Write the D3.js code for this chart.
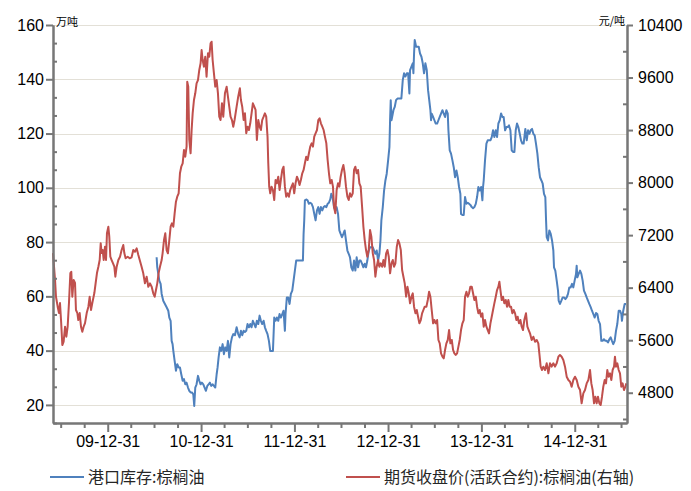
<!DOCTYPE html>
<html>
<head>
<meta charset="utf-8">
<script src="https://cdn.jsdelivr.net/npm/d3@7"></script>
<style>
  body { margin: 0; background: #fff; }
  svg { display: block; font-family: "Liberation Sans", Arial, sans-serif; }
</style>
</head>
<body>
<script>
// series names / units
const stockName = "港口库存:棕榈油";
const priceName = "期货收盘价(活跃合约):棕榈油(右轴)";
const leftUnit = "万吨";
const rightUnit = "元/吨";

// tick values
const leftTicks = [20, 40, 60, 80, 100, 120, 140, 160];
const leftMinor = [13.333, 26.667, 33.333, 46.667, 53.333, 66.667, 73.333, 86.667, 93.333,
  106.667, 113.333, 126.667, 133.333, 146.667, 153.333];
const rightTicks = [4800, 5600, 6400, 7200, 8000, 8800, 9600, 10400];
const rightMinor = [4400, 5200, 6000, 6800, 7600, 8400, 9200, 10000];
const quarterEnds = ["2009-06-30", "2009-09-30", "2009-12-31",
  "2010-03-31", "2010-06-30", "2010-09-30", "2010-12-31",
  "2011-03-31", "2011-06-30", "2011-09-30", "2011-12-31",
  "2012-03-31", "2012-06-30", "2012-09-30", "2012-12-31",
  "2013-03-31", "2013-06-30", "2013-09-30", "2013-12-31",
  "2014-03-31", "2014-06-30", "2014-09-30", "2014-12-31",
  "2015-03-31", "2015-06-30"];

// port stock, 万吨  [decimal year, value]
const stockSeries = [
  [2010.521,74.4],[2010.528,70.7],[2010.539,68.3],[2010.550,65.8],[2010.564,64.6],[2010.575,60.9],[2010.592,58.4],[2010.610,57.2],
  [2010.628,56.0],[2010.646,54.7],[2010.657,52.2],[2010.671,51.0],[2010.682,43.6],[2010.692,42.4],[2010.700,39.9],[2010.714,36.2],
  [2010.728,32.6],[2010.742,35.0],[2010.757,33.8],[2010.771,33.8],[2010.785,31.3],[2010.800,28.9],[2010.814,29.5],[2010.828,27.6],
  [2010.842,28.2],[2010.857,26.4],[2010.871,25.2],[2010.885,24.6],[2010.899,24.6],[2010.914,23.9],[2010.924,19.6],[2010.935,26.4],
  [2010.949,27.6],[2010.964,30.7],[2010.978,28.9],[2010.992,27.6],[2011.006,28.2],[2011.021,27.6],[2011.035,26.4],[2011.049,25.2],
  [2011.064,27.0],[2011.078,27.6],[2011.092,28.2],[2011.106,27.0],[2011.121,27.6],[2011.135,27.0],[2011.149,26.4],[2011.164,31.3],
  [2011.174,33.8],[2011.185,37.5],[2011.199,41.2],[2011.213,39.9],[2011.228,42.4],[2011.242,38.7],[2011.256,41.2],[2011.271,39.9],
  [2011.285,43.6],[2011.299,37.5],[2011.313,42.4],[2011.328,44.9],[2011.342,46.1],[2011.360,45.7],[2011.378,48.6],
  [2011.395,46.1],[2011.410,44.9],[2011.424,47.3],[2011.438,45.7],[2011.453,47.3],[2011.467,46.9],[2011.481,47.3],[2011.495,49.8],
  [2011.510,48.6],[2011.524,49.8],[2011.538,48.6],[2011.552,51.0],[2011.567,49.8],[2011.581,48.6],[2011.595,51.0],[2011.610,49.8],
  [2011.624,52.9],[2011.638,51.0],[2011.652,49.8],[2011.667,51.0],[2011.681,48.6],[2011.695,47.3],[2011.709,46.1],[2011.724,43.6],
  [2011.738,39.9],[2011.752,39.9],[2011.767,39.9],[2011.781,52.2],[2011.795,51.0],[2011.809,52.2],[2011.824,51.0],[2011.838,53.5],
  [2011.852,52.2],[2011.867,53.5],[2011.881,54.7],[2011.895,47.3],[2011.902,53.5],[2011.916,59.6],[2011.931,59.6],[2011.945,57.2],
  [2011.959,60.9],[2011.974,62.1],[2011.988,65.8],[2012.002,69.5],[2012.016,73.2],[2012.088,73.2],[2012.095,83.0],[2012.102,88.0],
  [2012.109,95.4],[2012.123,95.7],[2012.138,95.4],[2012.152,94.1],[2012.166,94.5],[2012.181,94.1],[2012.195,92.9],[2012.209,90.4],
  [2012.223,88.0],[2012.238,91.7],[2012.252,92.9],[2012.266,90.4],[2012.280,92.9],[2012.295,91.7],[2012.309,92.9],[2012.323,93.3],
  [2012.338,92.9],[2012.352,94.1],[2012.366,94.5],[2012.380,95.7],
  [2012.391,97.8],[2012.405,96.6],[2012.420,92.9],[2012.434,91.7],[2012.448,92.9],[2012.463,90.4],[2012.477,84.3],[2012.491,83.0],
  [2012.505,81.8],[2012.520,83.0],[2012.534,84.3],[2012.548,80.6],[2012.563,76.9],[2012.577,75.7],[2012.591,74.4],[2012.605,70.7],
  [2012.620,69.5],[2012.634,73.2],[2012.648,69.5],[2012.662,74.4],[2012.677,70.7],[2012.691,73.2],[2012.705,73.2],[2012.720,72.0],
  [2012.734,70.7],[2012.748,72.0],[2012.762,70.7],[2012.776,73.2],[2012.791,76.9],[2012.805,78.1],[2012.834,78.1],[2012.848,76.9],
  [2012.862,75.7],[2012.876,76.9],[2012.891,73.2],[2012.905,75.7],[2012.916,80.6],[2012.926,88.0],[2012.941,92.9],[2012.955,99.0],
  [2012.969,102.7],[2012.983,105.2],[2012.998,110.1],[2013.012,115.0],[2013.019,124.9],[2013.026,132.3],[2013.034,124.9],[2013.041,126.1],
  [2013.055,128.6],[2013.069,129.8],[2013.083,132.3],[2013.098,132.9],[2013.140,132.9],[2013.155,139.7],[2013.169,142.2],[2013.183,141.0],
  [2013.198,142.2],[2013.212,142.2],[2013.226,134.8],[2013.233,143.4],[2013.248,144.7],[2013.262,145.9],[2013.269,142.2],[2013.276,149.5],
  [2013.283,154.5],[2013.298,152.0],[2013.326,152.0],[2013.340,149.5],[2013.355,148.3],[2013.369,145.9],[2013.383,142.2],[2013.397,145.9],
  [2013.412,143.4],[2013.426,136.0],
  [2013.451,128.6],[2013.458,124.9],[2013.465,127.3],[2013.480,126.1],[2013.494,124.9],[2013.508,123.7],[2013.523,123.7],[2013.537,124.9],
  [2013.551,126.1],[2013.565,127.3],[2013.580,128.6],[2013.594,127.3],[2013.608,126.1],[2013.622,128.6],[2013.637,127.3],[2013.644,121.2],
  [2013.658,113.8],[2013.672,112.6],[2013.687,110.1],[2013.701,107.6],[2013.715,103.9],[2013.730,106.4],[2013.744,103.9],[2013.758,100.3],
  [2013.772,97.8],[2013.779,90.4],[2013.794,90.0],[2013.808,90.0],[2013.822,96.6],[2013.837,94.1],[2013.851,94.5],[2013.865,94.1],
  [2013.879,93.7],[2013.894,92.9],[2013.908,92.5],[2013.922,92.9],[2013.937,94.1],[2013.951,96.6],[2013.965,100.3],[2013.979,99.0],
  [2013.994,100.3],[2014.008,95.4],[2014.015,100.3],[2014.022,102.7],[2014.036,110.1],[2014.051,116.3],[2014.065,117.5],[2014.094,117.5],
  [2014.108,118.7],[2014.122,121.2],[2014.136,118.7],[2014.151,121.2],[2014.165,118.7],[2014.179,123.7],[2014.194,124.9],[2014.208,127.4],
  [2014.222,126.1],[2014.236,126.1],[2014.251,121.2],[2014.265,122.4],[2014.279,122.4],[2014.293,123.0],[2014.308,121.2],[2014.322,113.8],
  [2014.336,113.2],[2014.351,113.2],[2014.365,121.2],[2014.379,123.7],[2014.393,122.4],[2014.408,119.9],[2014.422,117.5],[2014.436,116.3],
  [2014.450,116.3],
  [2014.468,121.7],[2014.483,117.5],[2014.497,121.2],[2014.511,119.9],[2014.525,121.2],[2014.540,121.7],[2014.554,119.9],[2014.568,119.3],
  [2014.582,116.3],[2014.597,112.6],[2014.611,107.6],[2014.625,103.9],[2014.640,102.7],[2014.654,101.5],[2014.668,97.8],[2014.682,96.6],
  [2014.690,88.0],[2014.697,81.8],[2014.711,80.6],[2014.725,84.3],[2014.740,83.0],[2014.754,80.6],[2014.768,76.9],[2014.775,70.7],
  [2014.789,69.5],[2014.804,65.8],[2014.818,62.1],[2014.825,58.4],[2014.839,57.2],[2014.854,58.4],[2014.868,59.6],[2014.882,59.6],
  [2014.897,59.0],[2014.911,59.6],[2014.925,60.9],[2014.939,63.3],[2014.954,63.3],[2014.968,64.6],[2014.982,63.3],[2014.996,65.8],
  [2015.011,68.3],[2015.018,71.3],[2015.025,67.0],[2015.039,68.3],[2015.054,69.5],[2015.068,68.3],[2015.082,65.8],[2015.096,62.1],
  [2015.111,60.9],[2015.125,59.6],[2015.139,58.4],[2015.153,57.2],[2015.168,56.0],[2015.182,54.7],[2015.196,53.5],[2015.211,52.2],
  [2015.225,53.9],[2015.239,53.5],[2015.253,51.0],[2015.268,49.8],[2015.282,43.6],[2015.296,43.6],[2015.310,44.2],[2015.325,43.6],
  [2015.339,43.6],[2015.353,43.0],[2015.368,44.2],[2015.382,44.9],[2015.396,43.6],[2015.410,42.4],[2015.425,43.6],[2015.439,47.3],
  [2015.453,49.8],[2015.468,54.7],[2015.482,54.7],[2015.496,53.5],[2015.503,51.0],[2015.517,54.7],[2015.532,57.2],[2015.546,57.2]
];

// futures close, 元/吨  [decimal year, value]
const priceSeries = [
  [2009.411,6927],[2009.415,6850],[2009.433,6517],[2009.443,6262],[2009.461,6110],[2009.475,6013],[2009.486,6166],[2009.497,5907],
  [2009.511,5526],[2009.525,5577],[2009.540,5805],[2009.554,5653],[2009.568,5805],[2009.582,6166],[2009.597,6623],[2009.607,6643],
  [2009.618,6262],[2009.632,6517],[2009.647,6471],[2009.657,6060],[2009.672,6013],[2009.682,5907],[2009.697,6013],[2009.711,5805],
  [2009.725,5729],[2009.739,5805],[2009.754,5861],[2009.772,6013],[2009.790,6110],[2009.804,6262],[2009.818,6060],[2009.832,6166],
  [2009.854,6318],[2009.868,6471],[2009.882,6623],[2009.897,6719],[2009.911,6821],[2009.922,7075],[2009.932,6927],[2009.943,6973],
  [2009.954,6821],[2009.968,7024],[2009.979,6821],[2009.989,7228],[2010.004,7328],[2010.014,7176],[2010.025,6871],[2010.039,6821],
  [2010.054,6770],[2010.068,6719],[2010.079,6567],[2010.093,6719],[2010.111,6821],[2010.129,6871],[2010.146,6973],[2010.164,7049],
  [2010.175,6927],[2010.189,6847],[2010.211,6871],[2010.232,6847],[2010.253,6862],[2010.271,6973],[2010.289,6947],[2010.307,6999],
  [2010.325,6897],
  [2010.360,6719],[2010.378,6618],[2010.396,6466],[2010.414,6567],[2010.432,6414],[2010.450,6466],[2010.468,6414],[2010.485,6314],
  [2010.500,6262],[2010.514,6364],[2010.528,6466],[2010.542,6618],[2010.557,6719],[2010.575,6821],[2010.585,6923],[2010.600,7125],
  [2010.614,7228],[2010.628,6973],[2010.642,6923],[2010.657,7125],[2010.671,7328],[2010.685,7380],[2010.700,7328],[2010.714,7532],
  [2010.728,7710],[2010.742,7785],[2010.757,7837],[2010.771,8142],[2010.785,8242],[2010.800,8294],[2010.814,8496],[2010.828,8394],
  [2010.842,8547],[2010.849,9537],[2010.860,9461],[2010.871,8649],[2010.885,8446],[2010.896,8801],[2010.907,9055],[2010.921,9258],
  [2010.935,9360],[2010.949,9512],[2010.964,9562],[2010.978,9715],[2010.992,9817],[2011.003,10019],[2011.014,9867],[2011.028,9765],
  [2011.042,9917],[2011.056,9613],[2011.071,9969],[2011.085,9917],[2011.099,10121],[2011.110,10146],[2011.121,9867],[2011.135,9664],
  [2011.149,9461],[2011.164,9562],[2011.178,9360],[2011.192,9004],[2011.206,8953],[2011.221,9207],[2011.235,9004],[2011.253,9360],
  [2011.271,9461],[2011.285,9308],[2011.299,9156],[2011.313,9004],[2011.328,8953],[2011.342,8851],[2011.356,8953],
  [2011.378,9156],[2011.395,9308],[2011.413,9436],[2011.424,9258],[2011.438,9156],[2011.453,8953],[2011.467,9055],[2011.481,8751],
  [2011.495,8851],[2011.510,8801],[2011.524,8903],[2011.538,9055],[2011.552,9207],[2011.567,9156],[2011.581,9106],[2011.595,8649],
  [2011.610,8953],[2011.624,8851],[2011.638,8801],[2011.652,8953],[2011.667,9004],[2011.681,9055],[2011.695,9004],[2011.709,8700],
  [2011.717,8294],[2011.727,7938],[2011.738,7837],[2011.752,7938],[2011.767,7887],[2011.781,7735],[2011.795,8040],[2011.809,7989],
  [2011.824,8090],[2011.838,7887],[2011.852,8040],[2011.867,8192],[2011.881,8242],[2011.895,7938],[2011.909,7785],[2011.924,7837],
  [2011.938,7785],[2011.952,7887],[2011.966,7938],[2011.981,7989],[2011.995,7837],[2012.009,7989],[2012.024,8090],[2012.038,8040],
  [2012.052,7963],[2012.066,8040],[2012.081,8142],[2012.095,8192],[2012.109,8294],[2012.123,8394],[2012.138,8344],[2012.152,8446],
  [2012.166,8547],[2012.181,8598],[2012.195,8547],[2012.209,8700],[2012.223,8751],[2012.238,8801],[2012.252,8953],[2012.266,8979],
  [2012.280,8903],[2012.295,8851],[2012.309,8801],[2012.323,8700],[2012.338,8598],[2012.352,8344],[2012.366,8142],[2012.380,7989],
  [2012.395,8040],[2012.409,7938],
  [2012.420,7633],[2012.434,7532],[2012.448,7887],[2012.463,7989],[2012.477,7938],[2012.491,8090],[2012.505,8192],[2012.520,8268],
  [2012.534,8142],[2012.548,7938],[2012.563,7785],[2012.577,7735],[2012.591,7837],[2012.605,7785],[2012.620,7837],[2012.634,8192],
  [2012.648,8242],[2012.662,8142],[2012.677,8192],[2012.691,7989],[2012.705,7938],[2012.720,7633],[2012.734,7328],[2012.748,7125],
  [2012.762,6973],[2012.776,6871],[2012.791,6973],[2012.805,7278],[2012.819,7176],[2012.834,6923],[2012.848,6821],[2012.862,6567],
  [2012.876,6719],[2012.891,6821],[2012.905,6719],[2012.919,6770],[2012.934,6719],[2012.948,6821],[2012.962,6719],[2012.977,6923],
  [2012.991,6973],[2013.005,6871],[2013.019,6618],[2013.034,6770],[2013.048,6821],[2013.062,6719],[2013.076,6770],[2013.091,7024],
  [2013.105,7125],[2013.119,7075],[2013.134,6973],[2013.148,6669],[2013.162,6567],[2013.176,6466],[2013.191,6262],[2013.205,6414],
  [2013.219,6314],[2013.233,6161],[2013.248,6262],[2013.262,6314],[2013.276,6110],[2013.291,6009],[2013.305,6060],[2013.319,5958],
  [2013.333,5857],[2013.348,5907],[2013.362,6009],[2013.376,6060],[2013.390,6110],
  [2013.408,6110],[2013.423,6212],[2013.437,6338],[2013.451,6262],[2013.465,6060],[2013.480,5857],[2013.494,5907],[2013.508,5857],
  [2013.523,5907],[2013.537,5603],[2013.551,5552],[2013.565,5400],[2013.580,5349],[2013.594,5324],[2013.608,5451],[2013.622,5552],
  [2013.637,5603],[2013.651,5755],[2013.665,5552],[2013.680,5603],[2013.694,5451],[2013.708,5400],[2013.722,5375],[2013.737,5400],
  [2013.751,5502],[2013.765,5603],[2013.779,5755],[2013.794,5857],[2013.808,5907],[2013.822,6262],[2013.837,6338],[2013.851,6262],
  [2013.865,6314],[2013.879,6414],[2013.894,6414],[2013.908,6314],[2013.922,6212],[2013.937,6262],[2013.951,6110],[2013.965,6009],
  [2013.979,6060],[2013.994,5958],[2014.008,6009],[2014.022,5805],[2014.036,5907],[2014.051,5805],[2014.065,5755],[2014.079,5704],
  [2014.094,5857],[2014.108,5958],[2014.122,6060],[2014.136,6161],[2014.151,6262],[2014.165,6364],[2014.179,6414],[2014.190,6491],
  [2014.201,6364],[2014.215,6212],[2014.229,6262],[2014.243,6161],[2014.258,6212],[2014.272,6110],[2014.286,6212],[2014.300,6110],
  [2014.315,6110],[2014.329,6009],[2014.343,6060],[2014.358,6009],[2014.372,5907],[2014.386,5958],[2014.400,5857],[2014.415,5907],
  [2014.429,5805],[2014.443,5755],[2014.457,5907],
  [2014.475,6009],[2014.490,5805],[2014.504,5755],[2014.518,5704],[2014.536,5603],[2014.554,5653],[2014.572,5577],[2014.590,5603],
  [2014.607,5552],[2014.618,5400],[2014.632,5197],[2014.647,5146],[2014.661,5197],[2014.679,5146],[2014.697,5248],[2014.715,5095],
  [2014.732,5248],[2014.750,5197],[2014.768,5248],[2014.786,5197],[2014.804,5248],[2014.822,5349],[2014.839,5375],[2014.857,5349],
  [2014.875,5299],[2014.893,5197],[2014.911,5044],[2014.929,4993],[2014.947,4968],[2014.964,4891],[2014.982,4993],[2015.000,5044],
  [2015.018,4993],[2015.036,4891],[2015.054,4841],[2015.071,4638],[2015.089,4790],[2015.107,4841],[2015.125,4942],[2015.143,4993],
  [2015.161,5146],[2015.175,4942],[2015.189,4841],[2015.204,4638],[2015.218,4739],[2015.232,4638],[2015.246,4739],[2015.261,4638],
  [2015.275,4613],[2015.289,4739],[2015.303,4891],[2015.318,4993],[2015.332,4942],[2015.346,5146],[2015.360,5044],[2015.375,5095],
  [2015.389,4993],[2015.403,5146],[2015.418,5197],[2015.428,5349],[2015.439,5197],[2015.453,5248],[2015.468,5146],[2015.482,5095],
  [2015.496,4891],[2015.510,4942],[2015.525,4841],[2015.539,4891],[2015.550,4942]
];

// layout
const width = 691, height = 491;
const plot = {left: 53, right: 627, top: 25, bottom: 423};
const blue = "#4f81bd", red = "#c0504d", axisColor = "#777777", gridColor = "#e3e0d7";

// decimal year -> Date (UTC)
function yearDate(y) {
  const yr = Math.floor(y);
  const a = Date.UTC(yr, 0, 1), b = Date.UTC(yr + 1, 0, 1);
  return new Date(a + (y - yr) * (b - a));
}
const parseDay = d3.utcParse("%Y-%m-%d");

const svg = d3.select("body").append("svg")
  .attr("width", width)
  .attr("height", height);

// scales
const x = d3.scaleUtc()
  .domain([yearDate(2009.411), yearDate(2015.557)])
  .range([plot.left, plot.right]);
const yLeft = d3.scaleLinear()
  .domain([13.333, 160])
  .range([plot.bottom, plot.top]);
const yRight = d3.scaleLinear()
  .domain([4339, 10400])
  .range([plot.bottom, plot.top]);

// grid lines
svg.append("g")
  .selectAll("line")
  .data(leftTicks)
  .enter()
  .append("line")
  .attr("x1", plot.left)
  .attr("x2", plot.right)
  .attr("y1", d => Math.round(yLeft(d)) + 0.5)
  .attr("y2", d => Math.round(yLeft(d)) + 0.5)
  .attr("stroke", gridColor)
  .attr("stroke-width", 1);

// lines
const stockLine = d3.line()
  .x(d => x(yearDate(d[0])))
  .y(d => yLeft(d[1]));
const priceLine = d3.line()
  .x(d => x(yearDate(d[0])))
  .y(d => yRight(d[1]));

svg.append("path")
  .datum(stockSeries)
  .attr("d", stockLine)
  .attr("fill", "none")
  .attr("stroke", blue)
  .attr("stroke-width", 2)
  .attr("stroke-linejoin", "round");

svg.append("path")
  .datum(priceSeries)
  .attr("d", priceLine)
  .attr("fill", "none")
  .attr("stroke", red)
  .attr("stroke-width", 2)
  .attr("stroke-linejoin", "round");

// axes
function styleAxis(g) {
  g.selectAll("path.domain").attr("stroke", axisColor).attr("stroke-width", 2);
  g.selectAll(".tick line").attr("stroke", axisColor).attr("stroke-width", 2);
  g.selectAll("text")
    .attr("fill", "#000")
    .style("font-family", "'Liberation Sans', Arial, sans-serif")
    .style("font-size", "16px");
}

// left
svg.append("g")
  .attr("transform", `translate(${plot.left},0)`)
  .call(d3.axisLeft(yLeft).tickValues(leftMinor).tickSize(-4).tickSizeOuter(0).tickFormat(""))
  .call(styleAxis);
svg.append("g")
  .attr("transform", `translate(${plot.left},0)`)
  .call(d3.axisLeft(yLeft).tickValues(leftTicks).tickSize(7).tickPadding(2).tickSizeOuter(0).tickFormat(d3.format("d")))
  .call(styleAxis);

// right
svg.append("g")
  .attr("transform", `translate(${plot.right},0)`)
  .call(d3.axisRight(yRight).tickValues(rightMinor).tickSize(-4).tickSizeOuter(0).tickFormat(""))
  .call(styleAxis);
svg.append("g")
  .attr("transform", `translate(${plot.right},0)`)
  .call(d3.axisRight(yRight).tickValues(rightTicks).tickSize(6).tickPadding(5).tickSizeOuter(0).tickFormat(d3.format("d")))
  .call(styleAxis);

// bottom
const quarterDates = quarterEnds.map(parseDay);
const yearEnds = quarterDates.filter(d => d.getUTCMonth() === 11);
const otherQuarters = quarterDates.filter(d => d.getUTCMonth() !== 11);
svg.append("g")
  .attr("transform", `translate(0,${plot.bottom})`)
  .call(d3.axisBottom(x).tickValues(otherQuarters).tickSize(5).tickSizeOuter(0).tickFormat(""))
  .call(styleAxis);
svg.append("g")
  .attr("transform", `translate(0,${plot.bottom})`)
  .call(d3.axisBottom(x).tickValues(yearEnds).tickSize(9).tickPadding(4).tickSizeOuter(0)
    .tickFormat(d3.utcFormat("%y-%m-%d")))
  .call(styleAxis);

// units
svg.append("text")
  .attr("x", plot.left + 3)
  .attr("y", 26)
  .attr("font-family", "'Noto Sans CJK SC', sans-serif")
  .attr("font-size", 11)
  .attr("fill", "#000")
  .text(leftUnit);
svg.append("text")
  .attr("x", plot.right - 2)
  .attr("y", 25)
  .attr("text-anchor", "end")
  .attr("font-family", "'Noto Sans CJK SC', sans-serif")
  .attr("font-size", 11)
  .attr("fill", "#000")
  .text(rightUnit);

// legend
const legendItems = [
  {name: stockName, color: blue, x: 50},
  {name: priceName, color: red, x: 346}
];
const legend = svg.append("g").attr("transform", "translate(0,477)");
legend.selectAll("line")
  .data(legendItems)
  .enter()
  .append("line")
  .attr("x1", d => d.x)
  .attr("x2", d => d.x + 34)
  .attr("y1", 0)
  .attr("y2", 0)
  .attr("stroke", d => d.color)
  .attr("stroke-width", 2);
legend.selectAll("text")
  .data(legendItems)
  .enter()
  .append("text")
  .attr("x", d => d.x + 38)
  .attr("y", 0)
  .attr("dy", "0.35em")
  .attr("font-family", "'Noto Sans CJK SC', sans-serif")
  .attr("font-size", 16)
  .attr("fill", "#262626")
  .text(d => d.name);
</script>
</body>
</html>
